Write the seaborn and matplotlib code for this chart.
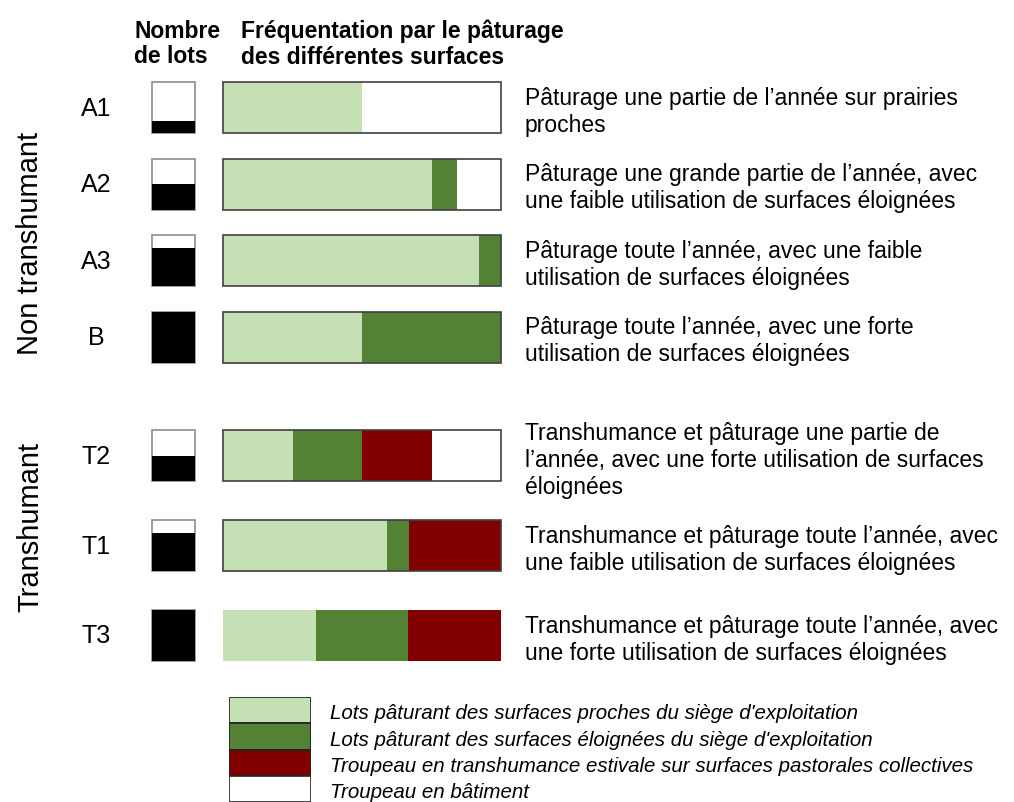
import matplotlib
matplotlib.use('Agg')
import matplotlib.pyplot as plt
import matplotlib.transforms as mtransforms
import numpy as np
import pandas as pd
import seaborn as sns

# ============================================================
# DONNEES
# ============================================================
types_non_tr = ["A1", "A2", "A3", "B"]
types_tr = ["T2", "T1", "T3"]

# part de l'annee sur chaque type de surface (fractions de la barre)
proches = [0.50, 0.75, 0.92, 0.50, 0.25, 0.59, 0.333]
eloignees = [0.00, 0.09, 0.08, 0.50, 0.25, 0.08, 0.333]
transhumance = [0.00, 0.00, 0.00, 0.00, 0.25, 0.33, 0.334]
batiment = [0.50, 0.16, 0.00, 0.00, 0.25, 0.00, 0.00]

# nombre de lots (remplissage de la petite boite)
nb_lots = [0.25, 0.50, 0.75, 1.00, 0.50, 0.75, 1.00]

descriptions = [
    "Pâturage une partie de l’année sur prairies\nproches",
    "Pâturage une grande partie de l’année, avec\nune faible utilisation de surfaces éloignées",
    "Pâturage toute l’année, avec une faible\nutilisation de surfaces éloignées",
    "Pâturage toute l’année, avec une forte\nutilisation de surfaces éloignées",
    "Transhumance et pâturage une partie de\nl’année, avec une forte utilisation de surfaces\néloignées",
    "Transhumance et pâturage toute l’année, avec\nune faible utilisation de surfaces éloignées",
    "Transhumance et pâturage toute l’année, avec\nune forte utilisation de surfaces éloignées",
]

legende = [
    "Lots pâturant des surfaces proches du siège d'exploitation",
    "Lots pâturant des surfaces éloignées du siège d'exploitation",
    "Troupeau en transhumance estivale sur surfaces pastorales collectives",
    "Troupeau en bâtiment",
]

# ============================================================
# STYLE
# ============================================================
VERT_CLAIR = "#c5e0b4"
VERT_FONCE = "#548235"
ROUGE = "#820000"
BLANC = "#ffffff"
couleurs_legende = [VERT_CLAIR, VERT_FONCE, ROUGE, BLANC]
cadre = [True, True, True, True, True, True, False]  # T3 sans contour

sns.set_theme(style="white")
plt.rcParams['font.family'] = ['Liberation Sans', 'DejaVu Sans']
plt.rcParams['text.color'] = 'black'

W, H = 1014, 803
fig = plt.figure(figsize=(W / 100, H / 100), dpi=100)


def axes_px(x0, y0, x1, y1):
    """axes a partir de coordonnees pixel (origine en haut a gauche)"""
    return fig.add_axes([x0 / W, 1 - y1 / H, (x1 - x0) / W, (y1 - y0) / H])


df = pd.DataFrame({
    "type": types_non_tr + types_tr,
    "proches": proches,
    "eloignees": eloignees,
    "transhumance": transhumance,
    "batiment": batiment,
    "lots": nb_lots,
    "desc": descriptions,
    "cadre": cadre,
})

BAR_X0, BAR_X1 = 223, 501
BOX_X0, BOX_X1 = 152, 195
unite = BAR_X1 - BAR_X0
box_left = -(BAR_X0 - BOX_X0) / unite
box_w = (BOX_X1 - BOX_X0) / unite


def dessiner_groupe(ax, d, epaisseur):
    c1 = d["proches"]
    c2 = c1 + d["eloignees"]
    c3 = c2 + d["transhumance"]
    c4 = c3 + d["batiment"]
    for cum, coul in [(c4, BLANC), (c3, ROUGE), (c2, VERT_FONCE), (c1, VERT_CLAIR)]:
        sns.barplot(x=cum.values, y=d["type"].values, orient='h', color=coul,
                    saturation=1, width=epaisseur, errorbar=None, linewidth=0, ax=ax)
    pos = np.arange(len(d))
    # contour des barres
    ax.barh(pos, c4.values, height=epaisseur, color='none',
            edgecolor=['#404040' if c else 'none' for c in d["cadre"]], linewidth=1.2)
    # boites "nombre de lots"
    lots = d["lots"].values
    ax.barh(pos, box_w, left=box_left, height=epaisseur, color='white',
            edgecolor='#8c8c8c', linewidth=1.2)
    ax.barh(pos + epaisseur / 2 - lots * epaisseur / 2, box_w, left=box_left,
            height=lots * epaisseur, color='black', linewidth=0)
    ax.set_xlim(box_left, 1.0)
    ax.set_ylim(len(d) - 0.5, -0.5)
    ax.set_axis_off()
    for p in ax.patches:
        p.set_clip_on(False)

    trans = mtransforms.blended_transform_factory(fig.transFigure, ax.transData)
    for i, row in enumerate(d.itertuples()):
        ax.text(96 / W, i, row.type, transform=trans, ha='center', va='center',
                fontsize=18)
        ax.text(525 / W, i + 0.04, row.desc, transform=trans, ha='left', va='center',
                fontsize=16.5, linespacing=1.22)


# groupe non transhumant : rangees centrees de 109 a 338 px
ax1 = axes_px(BOX_X0, 70.8, BAR_X1, 376.2)
dessiner_groupe(ax1, df.iloc[:4].reset_index(drop=True), 0.668)

# groupe transhumant : rangees centrees de 457 a 636 px
ax2 = axes_px(BOX_X0, 412.2, BAR_X1, 680.8)
dessiner_groupe(ax2, df.iloc[4:].reset_index(drop=True), 0.57)

# titres de groupes
fig.text(30 / W, 1 - 243 / H, "Non transhumant", rotation=90, ha='center', va='center',
         fontsize=21)
fig.text(30 / W, 1 - 527 / H, "Transhumant", rotation=90, ha='center', va='center',
         fontsize=21)

# en-tetes
fig.text(134 / W, 1 - 44 / H, "Nombre\nde lots", ha='left', va='center',
         fontsize=16.5, fontweight='bold', linespacing=1.15)
fig.text(241 / W, 1 - 44 / H, "Fréquentation par le pâturage\ndes différentes surfaces",
         ha='left', va='center', fontsize=16.5, fontweight='bold', linespacing=1.15)

# legende (la derniere case depasse du bas de la figure)
axl = axes_px(229, 698, 311, 698 + 4 * 26.3)
sns.barplot(x=[1] * 4, y=legende, hue=legende, palette=couleurs_legende, orient='h',
            saturation=1, width=1.0, errorbar=None, edgecolor='#222222', linewidth=1.2,
            legend=False, ax=axl)
axl.set_xlim(0, 1)
axl.set_ylim(3.5, -0.5)
axl.set_axis_off()
transl = mtransforms.blended_transform_factory(fig.transFigure, axl.transData)
for i, txt in enumerate(legende):
    axl.text(330 / W, i + 0.1, txt, transform=transl, ha='left', va='center',
             fontsize=14.8, style='italic')

fig.savefig("out.png", dpi=100)
plt.close(fig)
